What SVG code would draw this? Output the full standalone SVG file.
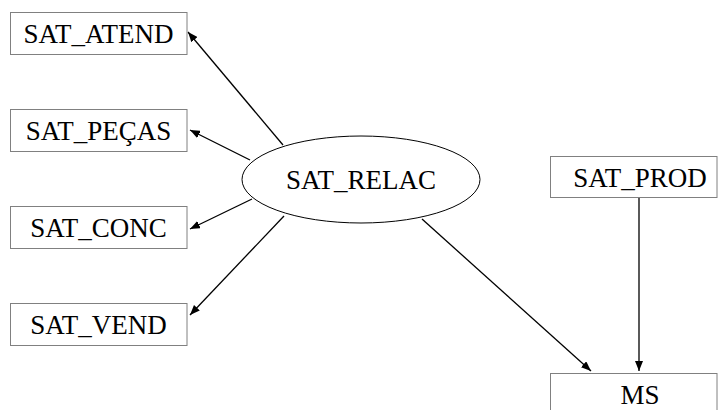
<svg xmlns="http://www.w3.org/2000/svg" width="718" height="410" viewBox="0 0 718 410">
<style>
.box{fill:#fff;stroke:#808080;stroke-width:1}
.ell{fill:#fff;stroke:#000;stroke-width:1}
.t{font-family:'Liberation Serif','Times New Roman',serif;font-size:27px;fill:#000;text-anchor:middle}
.c{stroke:#000;stroke-width:1.3;fill:none;marker-end:url(#ah)}
</style>
<defs>
<marker id="ah" viewBox="0 0 10 8" refX="10" refY="4" markerWidth="10" markerHeight="8" markerUnits="userSpaceOnUse" orient="auto">
<path d="M0,0 L10,4 L0,8 Z" fill="#000"/>
</marker>
</defs>
<rect width="718" height="410" fill="#fff"/>
<g id="connectors">
<line class="c" x1="283" y1="145" x2="188" y2="32"/>
<line class="c" x1="250" y1="160" x2="190" y2="130"/>
<line class="c" x1="252" y1="199" x2="190" y2="229"/>
<line class="c" x1="284" y1="216" x2="190" y2="315"/>
<line class="c" x1="422" y1="219" x2="591" y2="371"/>
<line class="c" x1="639" y1="197" x2="639" y2="371"/>
</g>
<g id="SAT_ATEND"><rect class="box" x="10.5" y="12.5" width="176.5" height="42"/><text class="t" x="98.5" y="43">SAT_ATEND</text></g>
<g id="SAT_PECAS"><rect class="box" x="10.5" y="109.5" width="176.5" height="42"/><text class="t" x="98.5" y="140">SAT_PEÇAS</text></g>
<g id="SAT_CONC"><rect class="box" x="10.5" y="206.5" width="176.5" height="42"/><text class="t" x="98.5" y="237">SAT_CONC</text></g>
<g id="SAT_VEND"><rect class="box" x="10.5" y="303.5" width="176.5" height="42"/><text class="t" x="98.5" y="334">SAT_VEND</text></g>
<g id="SAT_RELAC"><ellipse class="ell" cx="361" cy="179.5" rx="119" ry="43.5"/><text class="t" x="361" y="189">SAT_RELAC</text></g>
<g id="SAT_PROD"><rect class="box" x="550.5" y="156.5" width="166.5" height="41"/><text class="t" x="640" y="187">SAT_PROD</text></g>
<g id="MS"><rect class="box" x="550.5" y="373.5" width="166.5" height="42"/><text class="t" x="640" y="404">MS</text></g>
</svg>
